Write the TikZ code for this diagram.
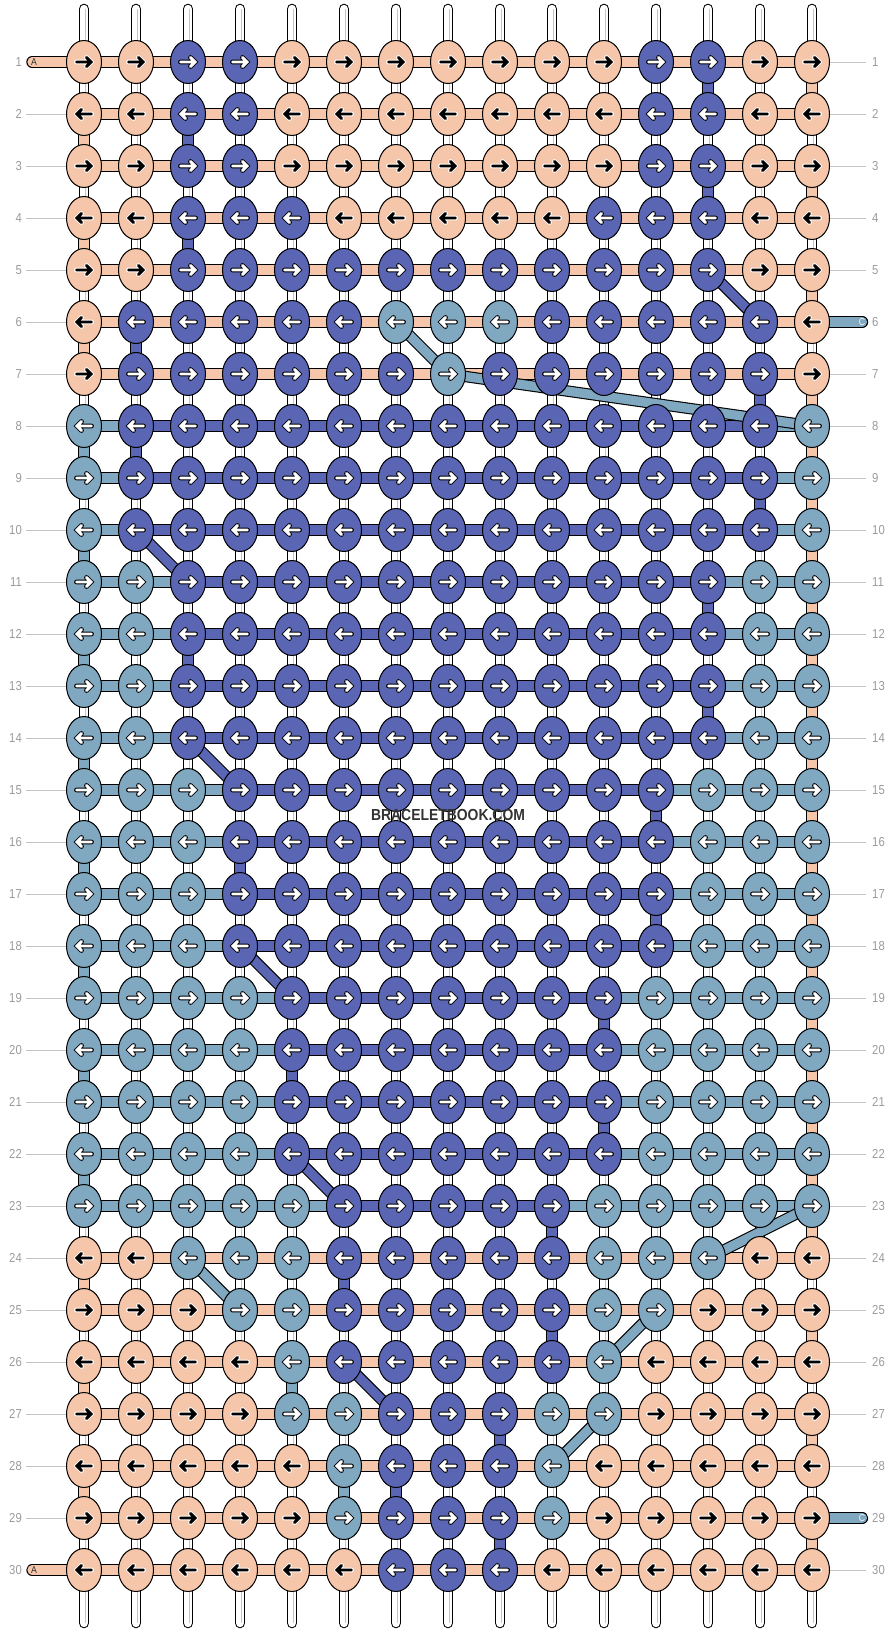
\documentclass[tikz,border=0pt]{standalone}
\usepackage{fontspec}
\setmainfont{Liberation Sans}
\newfontfamily\etroit{Liberation Sans}[FakeStretch=0.87]
\usetikzlibrary{shapes.geometric}
\pgfdeclarelayer{cordes}
\pgfdeclarelayer{liens}
\pgfsetlayers{cordes,liens,main}
\definecolor{cP}{HTML}{F5C6AA}
\definecolor{cB}{HTML}{5A66B4}
\definecolor{cL}{HTML}{80A8C0}
\colorlet{flecheP}{black}
\colorlet{flecheB}{white}
\colorlet{flecheL}{white}
\colorlet{bordP}{white}
\colorlet{bordB}{black}
\colorlet{bordL}{black}
\definecolor{gris}{HTML}{9A9A9A}
\definecolor{grisclair}{HTML}{C4C4C4}
\definecolor{encre}{HTML}{333333}
\begin{document}
\begin{tikzpicture}[x=1pt,y=-1pt]
		\tikzstyle{noeud}=[ellipse,draw=black,line width=1pt,minimum width=35pt,minimum height=43pt,inner sep=0pt]
		\tikzstyle{lien}=[line width=9.2pt,preaction={draw=black,line width=11.4pt}]
		\tikzstyle{pillule}=[line width=9.2pt,line cap=round,preaction={draw=black,line width=11.4pt,line cap=round}]
		\tikzstyle{corde}=[draw=white,line width=8.4pt,line cap=round,preaction={draw=black,line width=10.6pt,line cap=round}]
		\tikzstyle{fleche}=[line join=miter,line cap=round]
		\tikzstyle{numero}=[text=gris,font=\etroit\fontsize{13}{13}\selectfont,inner sep=0pt]
		\tikzstyle{repere}=[draw=grisclair,line width=0.8pt]
		\tikzstyle{lettre}=[font=\etroit\fontsize{10}{10}\selectfont,inner sep=0pt]
		\def\Pas{52}
		\def\Gauche{84}
		\def\Haut{62}
		\useasboundingbox (0,0) rectangle (896,1632);
		\foreach \ligne [count=\rg] in {
			{P,P,B,B,P,P,P,P,P,P,P,B,B,P,P},
			{P,P,B,B,P,P,P,P,P,P,P,B,B,P,P},
			{P,P,B,B,P,P,P,P,P,P,P,B,B,P,P},
			{P,P,B,B,B,P,P,P,P,P,B,B,B,P,P},
			{P,P,B,B,B,B,B,B,B,B,B,B,B,P,P},
			{P,B,B,B,B,B,L,L,L,B,B,B,B,B,P},
			{P,B,B,B,B,B,B,L,B,B,B,B,B,B,P},
			{L,B,B,B,B,B,B,B,B,B,B,B,B,B,L},
			{L,B,B,B,B,B,B,B,B,B,B,B,B,B,L},
			{L,B,B,B,B,B,B,B,B,B,B,B,B,B,L},
			{L,L,B,B,B,B,B,B,B,B,B,B,B,L,L},
			{L,L,B,B,B,B,B,B,B,B,B,B,B,L,L},
			{L,L,B,B,B,B,B,B,B,B,B,B,B,L,L},
			{L,L,B,B,B,B,B,B,B,B,B,B,B,L,L},
			{L,L,L,B,B,B,B,B,B,B,B,B,L,L,L},
			{L,L,L,B,B,B,B,B,B,B,B,B,L,L,L},
			{L,L,L,B,B,B,B,B,B,B,B,B,L,L,L},
			{L,L,L,B,B,B,B,B,B,B,B,B,L,L,L},
			{L,L,L,L,B,B,B,B,B,B,B,L,L,L,L},
			{L,L,L,L,B,B,B,B,B,B,B,L,L,L,L},
			{L,L,L,L,B,B,B,B,B,B,B,L,L,L,L},
			{L,L,L,L,B,B,B,B,B,B,B,L,L,L,L},
			{L,L,L,L,L,B,B,B,B,B,L,L,L,L,L},
			{P,P,L,L,L,B,B,B,B,B,L,L,L,P,P},
			{P,P,P,L,L,B,B,B,B,B,L,L,P,P,P},
			{P,P,P,P,L,B,B,B,B,B,L,P,P,P,P},
			{P,P,P,P,L,L,B,B,B,L,L,P,P,P,P},
			{P,P,P,P,P,L,B,B,B,L,P,P,P,P,P},
			{P,P,P,P,P,L,B,B,B,L,P,P,P,P,P},
			{P,P,P,P,P,P,B,B,B,P,P,P,P,P,P}}{
			\pgfmathsetmacro{\sens}{1-2*mod(\rg+1,2)}
			\foreach \couleur [count=\cl] in \ligne {
				\node[noeud,fill=c\couleur] (k\rg-\cl) at ({\Gauche+(\cl-1)*\Pas},{\Haut+(\rg-1)*\Pas}) {};
				\begin{scope}[shift={(k\rg-\cl.center)},xscale=\sens]
					\draw[fleche,draw=bord\couleur,line width=4.8pt] (-7.5,0) -- (7,0) (2.5,-4.5) -- (7,0) -- (2.5,4.5);
					\draw[fleche,draw=fleche\couleur,line width=2.9pt] (-7.5,0) -- (7,0) (2.5,-4.5) -- (7,0) -- (2.5,4.5);
				\end{scope}
			}
		}
		\begin{pgfonlayer}{cordes}
			\foreach \cl in {1,...,15}{
				\coordinate (haut\cl) at ({\Gauche+(\cl-1)*\Pas},9);
				\coordinate (bas\cl) at ({\Gauche+(\cl-1)*\Pas},1623);
				\draw[corde] (haut\cl) -- (bas\cl);
				\draw[grisclair,line width=0.8pt] ([xshift=1.5pt]haut\cl) -- ([xshift=1.5pt]bas\cl);
			}
		\end{pgfonlayer}
		\begin{pgfonlayer}{liens}
			\foreach \rg in {1,...,7,24,25,...,30}
				\draw[lien,draw=cP] (k\rg-1.center) -- (k\rg-15.center);
			\foreach \rg in {8,...,23}
				\draw[lien,draw=cL] (k\rg-1.center) -- (k\rg-15.center);
			\foreach \rg/\cA/\cB in {8/2/14,9/2/14,10/2/14,11/3/13,12/3/13,13/3/13,14/3/13,15/4/12,16/4/12,17/4/12,18/4/12,19/5/11,20/5/11,21/5/11,22/5/11,23/6/10}
				\draw[lien,draw=cB] (k\rg-\cA.center) -- (k\rg-\cB.center);
			\foreach \rg/\cl/\coul [evaluate=\rg as \sg using int(\rg+1)] in {
				1/15/P,2/1/P,3/15/P,4/1/P,5/15/P,6/1/P,7/15/P,8/15/P,9/15/P,10/15/P,11/15/P,12/15/P,13/15/P,14/15/P,15/15/P,16/15/P,17/15/P,18/15/P,19/15/P,20/15/P,21/15/P,22/15/P,23/15/P,24/1/P,25/15/P,26/1/P,27/15/P,28/1/P,29/15/P,
				1/13/B,2/3/B,3/13/B,4/3/B,6/2/B,7/14/B,8/2/B,9/14/B,11/13/B,12/3/B,13/13/B,15/12/B,16/4/B,17/12/B,19/11/B,20/5/B,21/11/B,23/10/B,24/6/B,25/10/B,27/9/B,28/7/B,29/9/B,
				8/1/L,10/1/L,12/1/L,14/1/L,16/1/L,18/1/L,20/1/L,22/1/L,26/5/L,28/6/L}
				\draw[lien,draw=c\coul] (k\rg-\cl.center) -- (k\sg-\cl.center);
			\foreach \rA/\cA/\rB/\cB/\coul in {5/13/6/14/B,10/2/11/3/B,14/3/15/4/B,18/4/19/5/B,22/5/23/6/B,26/6/27/7/B,
				6/7/7/8/L,7/8/8/15/L,23/15/24/13/L,24/3/25/4/L,25/12/26/11/L,27/11/28/10/L}
				\draw[lien,draw=c\coul] (k\rA-\cA.center) -- (k\rB-\cB.center);
			\coordinate (bA1) at (32,\Haut);
			\coordinate (bA30) at (32,{\Haut+29*\Pas});
			\coordinate (bC6) at (862.5,{\Haut+5*\Pas});
			\coordinate (bC29) at (862.5,{\Haut+28*\Pas});
			\draw[pillule,draw=cP] (bA1) -- (k1-1.center);
			\draw[pillule,draw=cP] (bA30) -- (k30-1.center);
			\draw[pillule,draw=cL] (k6-15.center) -- (bC6);
			\draw[pillule,draw=cL] (k29-15.center) -- (bC29);
		\end{pgfonlayer}
		\node[lettre,text=encre] (tA1) at (34,\Haut) {A};
		\node[lettre,text=encre] (tA30) at (34,{\Haut+29*\Pas}) {A};
		\node[lettre,text=white!88!cL] (tC6) at (862,{\Haut+5*\Pas}) {C};
		\node[lettre,text=white!88!cL] (tC29) at (862,{\Haut+28*\Pas}) {C};
		\foreach \rg in {1,...,30}{
			\node[numero,anchor=east] (numG\rg) at (22,{\Haut+(\rg-1)*\Pas}) {\rg};
			\node[numero,anchor=west] (numD\rg) at (872,{\Haut+(\rg-1)*\Pas}) {\rg};
		}
		\foreach \rg in {2,...,29}
			\draw[repere] ([xshift=4pt]numG\rg.east) -- (k\rg-1.west);
		\foreach \rg in {1,...,5,7,8,...,28,30}
			\draw[repere] (k\rg-15.east) -- ([xshift=-6pt]numD\rg.west);
		\node[text=encre,font=\etroit\bfseries\fontsize{16}{16}\selectfont,inner sep=0pt] (filigrane) at (448,815) {BRACELETBOOK.COM};
	\end{tikzpicture}
\end{document}
